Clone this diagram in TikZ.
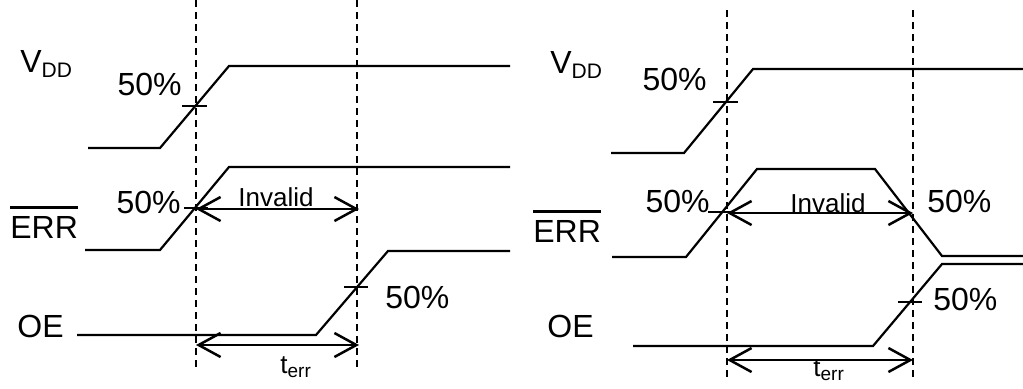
\documentclass[tikz,border=0pt]{standalone}
\usepackage{fontspec}
\setmainfont{Liberation Sans}
\usetikzlibrary{arrows.meta}

\tikzset{
	sig/.style={line width=1.1pt},
	guide/.style={line width=0.9pt, dash pattern=on 3.5pt off 2.5pt},
	span/.style={line width=1.25pt, {Straight Barb[length=11pt,width=12pt]}-{Straight Barb[length=11pt,width=12pt]}},
	lbl/.style={inner sep=0pt, font=\fontsize{16}{19}\selectfont},
	note/.style={inner sep=0pt, font=\fontsize{13}{16}\selectfont},
}
\newcommand{\idx}[3]{#1\raisebox{-0.3ex}{\fontsize{#3}{#3}\selectfont #2}}

\begin{document}
\begin{tikzpicture}[x=0.5pt, y=-0.5pt]
	\useasboundingbox (0,0) rectangle (1023,388);

	% left diagram
	\coordinate (lg1t) at (196,0);
	\coordinate (lg1b) at (196,367);
	\coordinate (lg2t) at (357,0);
	\coordinate (lg2b) at (357,367);
	\draw[guide] (lg1t) -- (lg1b);
	\draw[guide] (lg2t) -- (lg2b);

	\node[lbl, anchor=base west] (lvdd) at (20,72) {\idx{V}{DD}{10.5}};
	\node[lbl, anchor=base east] (lvddp) at (182,95) {50\%};
	\draw[sig] (88,148) -- (160,148) -- (229,66) -- (510,66);
	\draw[sig] (182,106) -- (207,106);

	\node[lbl, anchor=base west] (lerr) at (10,238) {ERR};
	\draw[sig] ([yshift=4pt]lerr.north west) -- ([yshift=4pt]lerr.north east);
	\node[lbl, anchor=base east] (lerrp) at (181,213) {50\%};
	\draw[sig] (85,250) -- (160,250) -- (229,167) -- (510,167);
	\draw[sig] (184,208) -- (208,208);
	\coordinate (linv1) at (196,209);
	\coordinate (linv2) at (359,209);
	\draw[span] (linv1) -- (linv2);
	\node[note, anchor=base] (linv) at (276,206) {Invalid};

	\node[lbl, anchor=base west] (loe) at (17,337) {OE};
	\node[lbl, anchor=base west] (loep) at (385,308) {50\%};
	\draw[sig] (77,335) -- (316,335) -- (388,251) -- (510,251);
	\draw[sig] (344,287) -- (368,287);
	\coordinate (lterr1) at (196,345);
	\coordinate (lterr2) at (359,345);
	\draw[span] (lterr1) -- (lterr2);
	\node[note, anchor=base west] (lterr) at (280,373) {\idx{t}{err}{9.5}};

	% right diagram
	\coordinate (rg1t) at (727,10);
	\coordinate (rg1b) at (727,377);
	\coordinate (rg2t) at (913,10);
	\coordinate (rg2b) at (913,377);
	\draw[guide] (rg1t) -- (rg1b);
	\draw[guide] (rg2t) -- (rg2b);

	\node[lbl, anchor=base west] (rvdd) at (550,73) {\idx{V}{DD}{10.5}};
	\node[lbl, anchor=base east] (rvddp) at (707,90) {50\%};
	\draw[sig] (611,153) -- (684,153) -- (753,69) -- (1023,69);
	\draw[sig] (713,102) -- (738,102);

	\node[lbl, anchor=base west] (rerr) at (533,242) {ERR};
	\draw[sig] ([yshift=4pt]rerr.north west) -- ([yshift=4pt]rerr.north east);
	\node[lbl, anchor=base east] (rerrp) at (710,212) {50\%};
	\node[lbl, anchor=base west] (rerrq) at (927,212) {50\%};
	\draw[sig] (612,257) -- (686,257) -- (757,169) -- (875,169) -- (942,256) -- (1023,256);
	\draw[sig] (708,212) -- (732,212);
	\coordinate (rinv1) at (727,213);
	\coordinate (rinv2) at (913,213);
	\draw[span] (rinv1) -- (rinv2);
	\node[note, anchor=base] (rinv) at (828,212) {Invalid};

	\node[lbl, anchor=base west] (roe) at (547,337) {OE};
	\node[lbl, anchor=base west] (roep) at (933,310) {50\%};
	\draw[sig] (633,346) -- (873,346) -- (942,264) -- (1023,264);
	\draw[sig] (898,302) -- (922,302);
	\coordinate (rterr1) at (727,360);
	\coordinate (rterr2) at (913,360);
	\draw[span] (rterr1) -- (rterr2);
	\node[note, anchor=base west] (rterr) at (813,376) {\idx{t}{err}{9.5}};
\end{tikzpicture}
\end{document}
